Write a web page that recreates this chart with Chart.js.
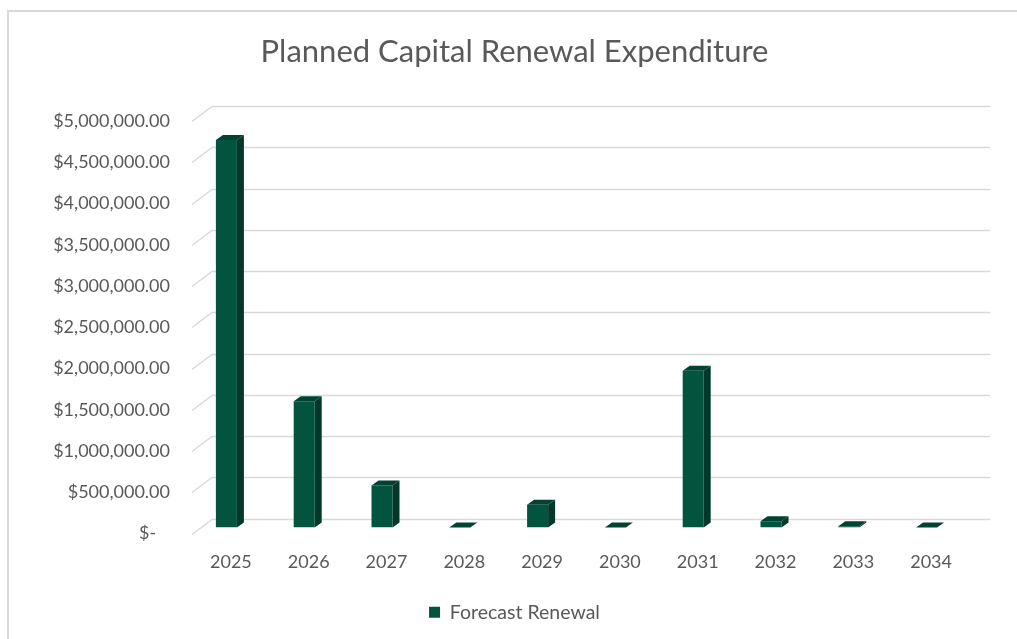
<!DOCTYPE html>
<html>
<head>
<meta charset="utf-8">
<script src="https://cdn.jsdelivr.net/npm/chart.js@4/dist/chart.umd.min.js"></script>
<style>
  html, body { margin: 0; padding: 0; background: #ffffff; }
  canvas { display: block; }
</style>
</head>
<body>
<canvas id="chart" width="1017" height="639"></canvas>
<script>
// Forecast renewal spend per financial year
const years = ['2025', '2026', '2027', '2028', '2029', '2030', '2031', '2032', '2033', '2034'];
const forecastRenewal = [4700000, 1530000, 510000, 0, 275000, 0, 1900000, 77000, 15000, 0];
const seriesName = 'Forecast Renewal';
const chartTitle = 'Planned Capital Renewal Expenditure';

const FONT = 'Lato, "Open Sans", sans-serif';
const TEXT = '#595959';
const GRID = '#d9d9d9';
const FACE = '#03543f';
const SIDE = '#013829';
const TOP = '#024232';

// Pseudo-3D geometry: back wall offset, bar plane offset, bar depth
const WALL_DX = 20, WALL_DY = -15;
const BAR_DX = -4.5, BAR_DY = -6;
const SIDE_DX = 7, SIDE_DY = -5;

function money(v) {
  if (v === 0) return '$-   ';
  return '$' + v.toLocaleString('en-US', { minimumFractionDigits: 2, maximumFractionDigits: 2 });
}

// Outer frame of the chart object
const frame = {
  id: 'frame',
  beforeDraw(chart) {
    const ctx = chart.ctx;
    ctx.save();
    ctx.strokeStyle = GRID;
    ctx.lineWidth = 2;
    ctx.beginPath();
    ctx.moveTo(8, chart.height);
    ctx.lineTo(8, 11);
    ctx.lineTo(chart.width, 11);
    ctx.stroke();
    ctx.restore();
  }
};

// Gridlines on the back wall with the slanted side-wall segments
const wallGrid = {
  id: 'wallGrid',
  beforeDatasetsDraw(chart) {
    const { ctx, chartArea: { left, right }, scales: { y } } = chart;
    ctx.save();
    ctx.strokeStyle = GRID;
    ctx.lineWidth = 1.5;
    y.ticks.forEach(t => {
      const py = Math.round(y.getPixelForValue(t.value)) + 0.5;
      ctx.beginPath();
      ctx.moveTo(left, py);
      ctx.lineTo(left + WALL_DX, py + WALL_DY);
      ctx.lineTo(right + WALL_DX, py + WALL_DY);
      ctx.stroke();
    });
    ctx.restore();
  }
};

// Columns: front faces come from the bar elements, side and top faces added here
const columns3d = {
  id: 'columns3d',
  beforeDatasetsDraw(chart) {
    chart.ctx.save();
    chart.ctx.translate(BAR_DX, BAR_DY);
  },
  afterDatasetsDraw(chart) {
    const ctx = chart.ctx;
    chart.getDatasetMeta(0).data.forEach(bar => {
      const { x, y, base, width } = bar.getProps(['x', 'y', 'base', 'width'], true);
      const l = x - width / 2, r = x + width / 2;
      ctx.fillStyle = SIDE;
      ctx.beginPath();
      ctx.moveTo(r, y);
      ctx.lineTo(r + SIDE_DX, y + SIDE_DY);
      ctx.lineTo(r + SIDE_DX, base + SIDE_DY);
      ctx.lineTo(r, base);
      ctx.closePath();
      ctx.fill();
      ctx.fillStyle = TOP;
      ctx.beginPath();
      ctx.moveTo(l, y);
      ctx.lineTo(l + SIDE_DX, y + SIDE_DY);
      ctx.lineTo(r + SIDE_DX, y + SIDE_DY);
      ctx.lineTo(r, y);
      ctx.closePath();
      ctx.fill();
    });
    ctx.restore();
  }
};

new Chart(document.getElementById('chart'), {
  type: 'bar',
  data: {
    labels: years,
    datasets: [{
      label: seriesName,
      data: forecastRenewal,
      backgroundColor: FACE,
      borderWidth: 0,
      barPercentage: 0.27,
      categoryPercentage: 1.0
    }]
  },
  options: {
    responsive: false,
    animation: false,
    events: [],
    layout: { padding: { left: 12, right: 0, top: 0, bottom: 7 } },
    plugins: {
      title: {
        display: true,
        text: chartTitle,
        color: TEXT,
        font: { family: FONT, size: 31, weight: 'normal' },
        padding: { top: 33, bottom: 51 }
      },
      legend: {
        display: true,
        position: 'bottom',
        labels: {
          color: TEXT,
          font: { family: FONT, size: 19.5 },
          boxWidth: 11,
          boxHeight: 11,
          padding: 8
        }
      },
      tooltip: { enabled: false }
    },
    scales: {
      x: {
        grid: { display: false, drawTicks: false },
        border: { display: false },
        ticks: { color: TEXT, font: { family: FONT, size: 18 }, padding: 18, maxRotation: 0 },
        afterFit(scale) { scale.height = 61; }
      },
      y: {
        min: 0,
        max: 5000000,
        grid: { display: false, drawTicks: false },
        border: { display: false },
        ticks: {
          stepSize: 500000,
          color: TEXT,
          font: { family: FONT, size: 18 },
          padding: 22,
          callback: v => money(v)
        },
        afterFit(scale) { scale.width = 180; }
      },
      yRight: {
        position: 'right',
        display: true,
        grid: { display: false, drawTicks: false },
        border: { display: false },
        ticks: { display: false },
        afterFit(scale) { scale.width = 47; }
      }
    }
  },
  plugins: [frame, wallGrid, columns3d]
});
</script>
</body>
</html>
